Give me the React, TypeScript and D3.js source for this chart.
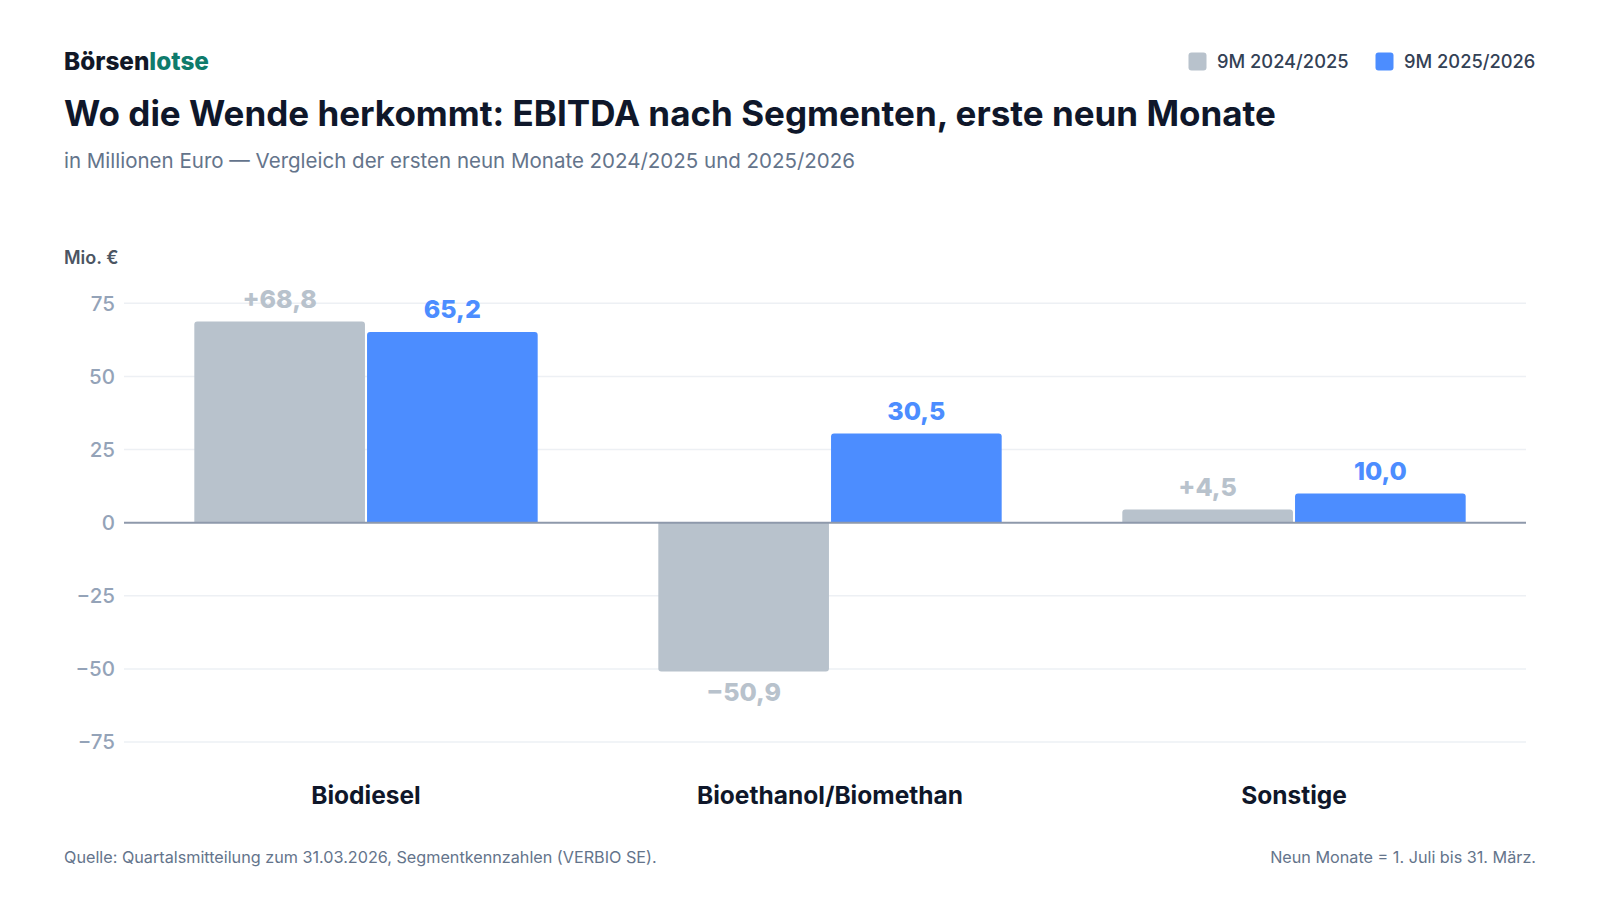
import React, { useEffect } from "react";
import * as d3 from "d3";

const categories = ["Biodiesel", "Bioethanol/Biomethan", "Sonstige"];
const seriesNames = ["9M 2024/2025", "9M 2025/2026"];
const prevValues = [68.8, -50.9, 4.5];
const currValues = [65.2, 30.5, 10.0];
const yTicks = [-75, -50, -25, 0, 25, 50, 75];

const W = 1600;
const H = 900;
const FONT = "Inter, 'Noto Sans', sans-serif";
const colors = { prev: "#b8c2cc", curr: "#4c8dff" };

const fmt = (v: number, signed: boolean) => {
  const s = Math.abs(v).toFixed(1).replace(".", ",");
  if (v < 0) return `\u2212${s}`;
  return signed ? `+${s}` : s;
};

// bar with rounded outer end only
const barPath = (x: number, w: number, y0: number, y1: number, r: number) => {
  if (y1 <= y0) {
    const t = y1;
    return `M${x},${y0}V${t + r}Q${x},${t} ${x + r},${t}H${x + w - r}Q${x + w},${t} ${x + w},${t + r}V${y0}Z`;
  }
  const b = y1;
  return `M${x},${y0}V${b - r}Q${x},${b} ${x + r},${b}H${x + w - r}Q${x + w},${b} ${x + w},${b - r}V${y0}Z`;
};

const App = () => {
  useEffect(() => {
    document.body.style.margin = "0";
  }, []);

  const x0 = d3.scaleBand<string>().domain(categories).range([134, 1526]).paddingInner(0.26).paddingOuter(0.13);
  const x1 = d3.scaleBand<string>().domain(["prev", "curr"]).range([0, x0.bandwidth()]).paddingInner(0.012);
  const y = d3.scaleLinear().domain([-75, 75]).range([742.1, 303.3]);

  const series = [
    { key: "prev", values: prevValues, color: colors.prev, signed: true },
    { key: "curr", values: currValues, color: colors.curr, signed: false },
  ];

  return (
    <svg width={W} height={H} style={{ display: "block", fontFamily: FONT }}>
      <rect width={W} height={H} fill="#ffffff" />
      <text x={64} y={70} fontSize={24.3} fontWeight={800} fill="#111827">
        Börsen<tspan fill="#0f7b6c">lotse</tspan>
      </text>
      <text x={64} y={126} fontSize={35} fontWeight={700} fill="#0f172a">
        Wo die Wende herkommt: EBITDA nach Segmenten, erste neun Monate
      </text>
      <text x={64} y={168} fontSize={20.5} fill="#64748b">
        in Millionen Euro — Vergleich der ersten neun Monate 2024/2025 und 2025/2026
      </text>

      {/* legend */}
      {[
        { x: 1188.5, label: seriesNames[0], color: colors.prev },
        { x: 1375.5, label: seriesNames[1], color: colors.curr },
      ].map((d) => (
        <g key={d.label}>
          <rect x={d.x} y={52.5} width={18} height={18} rx={3} fill={d.color} />
          <text x={d.x + 28.5} y={67.5} fontSize={18.3} fontWeight={500} fill="#334155">
            {d.label}
          </text>
        </g>
      ))}

      <text x={64} y={264} fontSize={18} fontWeight={600} fill="#4b5563">
        Mio. €
      </text>

      {/* grid + ticks */}
      {yTicks.map((t) => (
        <g key={t}>
          {t !== 0 && <line x1={124} x2={1526} y1={y(t)} y2={y(t)} stroke="#edf0f4" strokeWidth={1.5} />}
          <text x={115} y={y(t)} dy="0.36em" textAnchor="end" fontSize={20.5} fontWeight={500} fill="#94a3b8">
            {t < 0 ? `\u2212${Math.abs(t)}` : t}
          </text>
        </g>
      ))}

      {/* bars */}
      {series.map((s) =>
        categories.map((c, i) => {
          const v = s.values[i];
          const bx = (x0(c) ?? 0) + (x1(s.key) ?? 0);
          const bw = x1.bandwidth();
          const cx = bx + bw / 2;
          const ly = v >= 0 ? y(v) - 13.5 : y(v) + 29.5;
          return (
            <g key={s.key + c}>
              <path d={barPath(bx, bw, y(0), y(v), 3)} fill={s.color} />
              <text x={cx} y={ly} textAnchor="middle" fontSize={25} fontWeight={800} fill={s.color}>
                {fmt(v, s.signed)}
              </text>
            </g>
          );
        })
      )}

      <line x1={124} x2={1526} y1={y(0)} y2={y(0)} stroke="#8e99ab" strokeWidth={2} />

      {/* category labels */}
      {categories.map((c) => (
        <text key={c} x={(x0(c) ?? 0) + x0.bandwidth() / 2} y={803.5} textAnchor="middle" fontSize={24.5} fontWeight={700} fill="#0f172a">
          {c}
        </text>
      ))}

      <text x={64} y={862.5} fontSize={16.2} fill="#64748b">
        Quelle: Quartalsmitteilung zum 31.03.2026, Segmentkennzahlen (VERBIO SE).
      </text>
      <text x={1536} y={862.5} fontSize={16.2} fill="#64748b" textAnchor="end">
        Neun Monate = 1. Juli bis 31. März.
      </text>
    </svg>
  );
};

export default App;
